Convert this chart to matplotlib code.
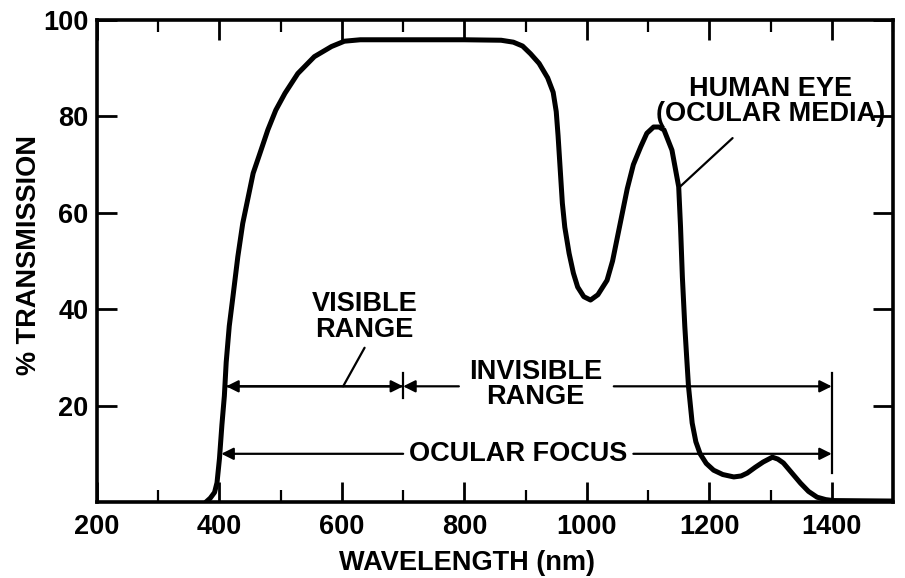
import matplotlib
matplotlib.use("Agg")
import matplotlib.pyplot as plt
from matplotlib import font_manager
from matplotlib.ticker import FixedLocator

names = {f.name for f in font_manager.fontManager.ttflist}
FAM = 'Liberation Sans Narrow' if 'Liberation Sans Narrow' in names else 'Liberation Sans'
plt.rcParams['font.family'] = [FAM, 'DejaVu Sans']
plt.rcParams['font.weight'] = 'bold'

# ---- data ----
wavelength = [378, 385, 392, 396, 400, 404, 408, 411, 416, 422, 430, 438, 447, 455,
              466, 479, 492, 507, 528, 555, 583, 604, 630, 700, 800, 860, 880, 895,
              908, 922, 936, 945, 950, 953, 955, 958, 960, 964, 971, 978, 985, 995,
              1006, 1018, 1033, 1042, 1050, 1058, 1066, 1076, 1088, 1098, 1109, 1118,
              1126, 1139, 1150, 1153, 1156, 1160, 1163, 1166, 1172, 1178,
              1185, 1195, 1207, 1222, 1240, 1252, 1262, 1275, 1288, 1303, 1312, 1321,
              1335, 1349, 1362, 1376, 1390, 1402, 1450, 1500]
transmission = [0, 0.8, 2.0, 4, 9, 16, 22, 29, 36.5, 42.6, 50.9, 57.8, 63.3, 68.2,
                72.3, 77.2, 81.3, 84.8, 88.9, 92.4, 94.5, 95.6, 95.9, 95.9, 95.9, 95.8, 95.4, 94.6,
                93, 91, 88, 85, 81, 76, 72, 66, 62, 57, 51.6, 47.5, 44.6, 42.6,
                41.9, 43, 46, 50, 55, 60, 65, 70, 73.7, 76.5, 77.8, 77.8,
                77.2, 73, 65.4, 57.1, 46.7, 36.4, 30.1, 24, 16.4, 12.5,
                10, 8, 6.6, 5.7, 5.2, 5.4, 6, 7.2, 8.3, 9.3, 8.9, 8.1,
                6, 3.9, 2.2, 1.0, 0.5, 0.3, 0.25, 0.2]

x_ticks = [200, 400, 600, 800, 1000, 1200, 1400]
x_minor = [300, 500, 700, 900, 1100, 1300, 1500]
y_ticks = [20, 40, 60, 80, 100]

visible_range = (411, 700)
invisible_range = (700, 1400)
ocular_focus = (403, 1400)
range_level = 24
focus_level = 10

# ---- figure ----
fig = plt.figure(figsize=(9.05, 5.78), dpi=100)
ax = fig.add_axes([97/905, 1-502/578, 796/905, 482/578])
ax.plot(wavelength, transmission, color='black', lw=3.6, solid_capstyle='round',
        solid_joinstyle='round', zorder=3)
ax.set_xlim(200, 1500)
ax.set_ylim(0, 100)

for s in ax.spines.values():
    s.set_linewidth(2.6)
ax.xaxis.set_major_locator(FixedLocator(x_ticks))
ax.xaxis.set_minor_locator(FixedLocator(x_minor))
ax.yaxis.set_major_locator(FixedLocator(y_ticks))
fs = 19.5
ax.tick_params(axis='both', which='major', direction='in', length=14.5, width=2,
               top=True, right=True, labelsize=fs)
ax.tick_params(axis='x', which='major', pad=9)
ax.tick_params(axis='y', which='major', pad=6)
ax.tick_params(axis='both', which='minor', direction='in', length=8.5, width=1.6,
               top=True, right=True)
ax.set_xticklabels([str(v) for v in x_ticks], fontweight='bold')
ax.set_yticklabels([str(v) for v in y_ticks], fontweight='bold')

ax.set_xlabel('WAVELENGTH (nm)', fontsize=fs, fontweight='bold')
ax.xaxis.set_label_coords(0.465, -0.1)
ax.set_ylabel('% TRANSMISSION', fontsize=fs, fontweight='bold')
ax.yaxis.set_label_coords(-0.069, 0.512)

ap = dict(arrowstyle='-|>', mutation_scale=18, lw=1.6, color='black',
          shrinkA=0, shrinkB=0)
ln = dict(arrowstyle='-', lw=1.6, color='black', shrinkA=0, shrinkB=0)

# visible range double arrow
ax.annotate('', xy=(visible_range[0], range_level), xytext=(visible_range[1], range_level), arrowprops=ap)
ax.annotate('', xy=(visible_range[1], range_level), xytext=(visible_range[0], range_level), arrowprops=ap)
ax.plot([visible_range[1]] * 2, [21.6, 26.8], color='black', lw=1.6)
ax.text(637, 38.4, 'VISIBLE\nRANGE', ha='center', va='center', fontsize=fs,
        fontweight='bold', linespacing=1.0)
ax.annotate('', xy=(602, range_level), xytext=(637, 32), arrowprops=ln)

# invisible range
ax.annotate('', xy=(invisible_range[0], range_level), xytext=(791, range_level), arrowprops=ap)
ax.annotate('', xy=(invisible_range[1], range_level), xytext=(1044, range_level), arrowprops=ap)
ax.text(916, 24.4, 'INVISIBLE\nRANGE', ha='center', va='center', fontsize=fs,
        fontweight='bold', linespacing=0.97)
ax.plot([invisible_range[1]] * 2, [6, 26.8], color='black', lw=1.6)

# ocular focus
ax.annotate('', xy=(ocular_focus[0], focus_level), xytext=(700, focus_level), arrowprops=ap)
ax.annotate('', xy=(ocular_focus[1], focus_level), xytext=(1076, focus_level), arrowprops=ap)
ax.text(887, focus_level, 'OCULAR FOCUS', ha='center', va='center', fontsize=fs,
        fontweight='bold')

# human eye label
ax.text(1300, 83.1, 'HUMAN EYE\n(OCULAR MEDIA)', ha='center', va='center', fontsize=fs,
        fontweight='bold', linespacing=0.92)
ax.annotate('', xy=(1152, 65.4), xytext=(1238, 75.5), arrowprops=ln)

fig.savefig('out.png', dpi=100)
